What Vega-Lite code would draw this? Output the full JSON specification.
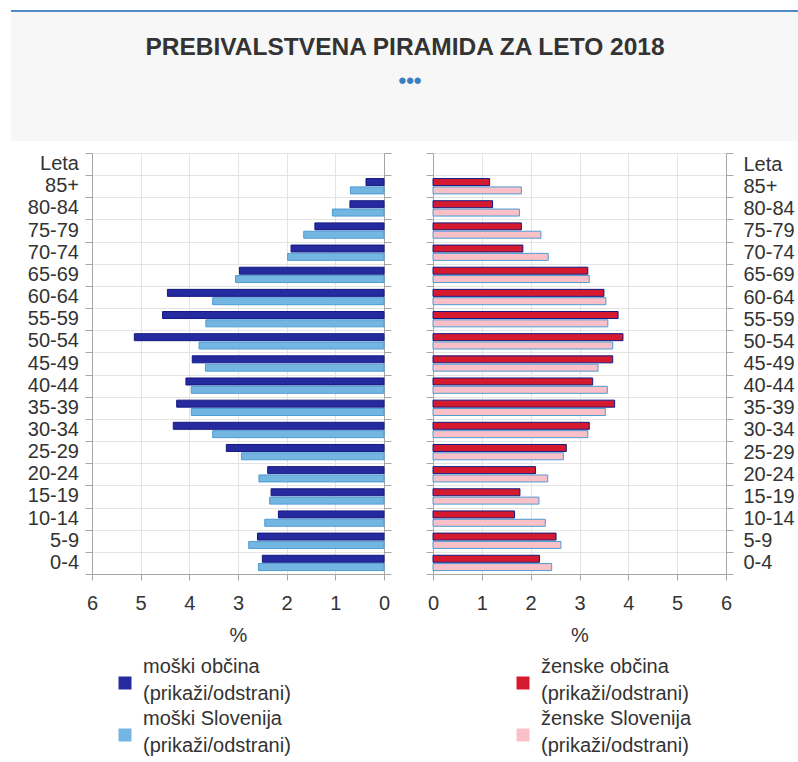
{
  "$schema": "https://vega.github.io/schema/vega-lite/v6.json",
  "background": "white",
  "padding": {"left": 10, "top": 10, "right": 0, "bottom": 0},
  "config": {
    "font": "Liberation Sans",
    "view": {"stroke": null},
    "axis": {
      "labelFont": "Liberation Sans", "labelFontSize": 20, "labelColor": "#333333",
      "titleFont": "Liberation Sans", "titleFontSize": 20, "titleFontWeight": "normal", "titleColor": "#333333",
      "domainColor": "#a6a6a6", "tickColor": "#a6a6a6", "gridColor": "#e4e4e4", "tickSize": 7
    },
    "legend": {"labelFont": "Liberation Sans", "labelFontSize": 20, "labelColor": "#333333"}
  },
  "datasets": {
    "ages": [
      {"age": "Leta"}, {"age": "85+"}, {"age": "80-84"}, {"age": "75-79"}, {"age": "70-74"}, {"age": "65-69"}, {"age": "60-64"}, {"age": "55-59"}, {"age": "50-54"}, {"age": "45-49"}, {"age": "40-44"}, {"age": "35-39"}, {"age": "30-34"}, {"age": "25-29"}, {"age": "20-24"}, {"age": "15-19"}, {"age": "10-14"}, {"age": "5-9"}, {"age": "0-4"}
    ],
    "male": [
      {"age": "85+", "area": "občina", "series": "moški občina", "value": 0.37},
      {"age": "85+", "area": "Slovenija", "series": "moški Slovenija", "value": 0.69},
      {"age": "80-84", "area": "občina", "series": "moški občina", "value": 0.70},
      {"age": "80-84", "area": "Slovenija", "series": "moški Slovenija", "value": 1.06},
      {"age": "75-79", "area": "občina", "series": "moški občina", "value": 1.42},
      {"age": "75-79", "area": "Slovenija", "series": "moški Slovenija", "value": 1.65},
      {"age": "70-74", "area": "občina", "series": "moški občina", "value": 1.91},
      {"age": "70-74", "area": "Slovenija", "series": "moški Slovenija", "value": 1.98},
      {"age": "65-69", "area": "občina", "series": "moški občina", "value": 2.97},
      {"age": "65-69", "area": "Slovenija", "series": "moški Slovenija", "value": 3.05},
      {"age": "60-64", "area": "občina", "series": "moški občina", "value": 4.45},
      {"age": "60-64", "area": "Slovenija", "series": "moški Slovenija", "value": 3.52},
      {"age": "55-59", "area": "občina", "series": "moški občina", "value": 4.55},
      {"age": "55-59", "area": "Slovenija", "series": "moški Slovenija", "value": 3.66},
      {"age": "50-54", "area": "občina", "series": "moški občina", "value": 5.13},
      {"age": "50-54", "area": "Slovenija", "series": "moški Slovenija", "value": 3.80},
      {"age": "45-49", "area": "občina", "series": "moški občina", "value": 3.94},
      {"age": "45-49", "area": "Slovenija", "series": "moški Slovenija", "value": 3.67},
      {"age": "40-44", "area": "občina", "series": "moški občina", "value": 4.07},
      {"age": "40-44", "area": "Slovenija", "series": "moški Slovenija", "value": 3.96},
      {"age": "35-39", "area": "občina", "series": "moški občina", "value": 4.26},
      {"age": "35-39", "area": "Slovenija", "series": "moški Slovenija", "value": 3.96},
      {"age": "30-34", "area": "občina", "series": "moški občina", "value": 4.33},
      {"age": "30-34", "area": "Slovenija", "series": "moški Slovenija", "value": 3.52},
      {"age": "25-29", "area": "občina", "series": "moški občina", "value": 3.24},
      {"age": "25-29", "area": "Slovenija", "series": "moški Slovenija", "value": 2.93},
      {"age": "20-24", "area": "občina", "series": "moški občina", "value": 2.39},
      {"age": "20-24", "area": "Slovenija", "series": "moški Slovenija", "value": 2.57},
      {"age": "15-19", "area": "občina", "series": "moški občina", "value": 2.32},
      {"age": "15-19", "area": "Slovenija", "series": "moški Slovenija", "value": 2.35},
      {"age": "10-14", "area": "občina", "series": "moški občina", "value": 2.17},
      {"age": "10-14", "area": "Slovenija", "series": "moški Slovenija", "value": 2.45},
      {"age": "5-9", "area": "občina", "series": "moški občina", "value": 2.60},
      {"age": "5-9", "area": "Slovenija", "series": "moški Slovenija", "value": 2.78},
      {"age": "0-4", "area": "občina", "series": "moški občina", "value": 2.50},
      {"age": "0-4", "area": "Slovenija", "series": "moški Slovenija", "value": 2.58}
    ],
    "female": [
      {"age": "85+", "area": "občina", "series": "ženske občina", "value": 1.16},
      {"age": "85+", "area": "Slovenija", "series": "ženske Slovenija", "value": 1.81},
      {"age": "80-84", "area": "občina", "series": "ženske občina", "value": 1.22},
      {"age": "80-84", "area": "Slovenija", "series": "ženske Slovenija", "value": 1.77},
      {"age": "75-79", "area": "občina", "series": "ženske občina", "value": 1.81},
      {"age": "75-79", "area": "Slovenija", "series": "ženske Slovenija", "value": 2.21},
      {"age": "70-74", "area": "občina", "series": "ženske občina", "value": 1.84},
      {"age": "70-74", "area": "Slovenija", "series": "ženske Slovenija", "value": 2.36},
      {"age": "65-69", "area": "občina", "series": "ženske občina", "value": 3.17},
      {"age": "65-69", "area": "Slovenija", "series": "ženske Slovenija", "value": 3.20},
      {"age": "60-64", "area": "občina", "series": "ženske občina", "value": 3.50},
      {"age": "60-64", "area": "Slovenija", "series": "ženske Slovenija", "value": 3.54},
      {"age": "55-59", "area": "občina", "series": "ženske občina", "value": 3.79},
      {"age": "55-59", "area": "Slovenija", "series": "ženske Slovenija", "value": 3.58},
      {"age": "50-54", "area": "občina", "series": "ženske občina", "value": 3.89},
      {"age": "50-54", "area": "Slovenija", "series": "ženske Slovenija", "value": 3.68},
      {"age": "45-49", "area": "občina", "series": "ženske občina", "value": 3.68},
      {"age": "45-49", "area": "Slovenija", "series": "ženske Slovenija", "value": 3.38},
      {"age": "40-44", "area": "občina", "series": "ženske občina", "value": 3.27},
      {"age": "40-44", "area": "Slovenija", "series": "ženske Slovenija", "value": 3.57},
      {"age": "35-39", "area": "občina", "series": "ženske občina", "value": 3.72},
      {"age": "35-39", "area": "Slovenija", "series": "ženske Slovenija", "value": 3.53},
      {"age": "30-34", "area": "občina", "series": "ženske občina", "value": 3.20},
      {"age": "30-34", "area": "Slovenija", "series": "ženske Slovenija", "value": 3.17},
      {"age": "25-29", "area": "občina", "series": "ženske občina", "value": 2.73},
      {"age": "25-29", "area": "Slovenija", "series": "ženske Slovenija", "value": 2.67},
      {"age": "20-24", "area": "občina", "series": "ženske občina", "value": 2.10},
      {"age": "20-24", "area": "Slovenija", "series": "ženske Slovenija", "value": 2.35},
      {"age": "15-19", "area": "občina", "series": "ženske občina", "value": 1.78},
      {"age": "15-19", "area": "Slovenija", "series": "ženske Slovenija", "value": 2.17},
      {"age": "10-14", "area": "občina", "series": "ženske občina", "value": 1.67},
      {"age": "10-14", "area": "Slovenija", "series": "ženske Slovenija", "value": 2.30},
      {"age": "5-9", "area": "občina", "series": "ženske občina", "value": 2.52},
      {"age": "5-9", "area": "Slovenija", "series": "ženske Slovenija", "value": 2.62},
      {"age": "0-4", "area": "občina", "series": "ženske občina", "value": 2.18},
      {"age": "0-4", "area": "Slovenija", "series": "ženske Slovenija", "value": 2.43}
    ],
    "header": [{"title": "PREBIVALSTVENA PIRAMIDA ZA LETO 2018", "dots": "•••"}]
  },
  "spacing": 2,
  "vconcat": [
    {
      "width": 788,
      "height": 130,
      "view": {"fill": "#f7f7f7", "stroke": null},
      "data": {"name": "header"},
      "layer": [
        {
          "mark": {"type": "rule", "color": "#4f89c6", "strokeWidth": 2},
          "encoding": {"y": {"datum": 1, "type": "quantitative", "scale": {"domain": [0, 1]}, "axis": null}}
        },
        {
          "mark": {"type": "text", "font": "Liberation Sans", "fontSize": 24.5, "fontWeight": "bold", "color": "#333333", "dy": -28},
          "encoding": {"text": {"field": "title"}}
        },
        {
          "mark": {"type": "text", "font": "Liberation Sans", "fontSize": 22, "fontWeight": "bold", "color": "#3a7fc1", "dy": 5, "dx": 5},
          "encoding": {"text": {"field": "dots"}}
        }
      ]
    },
    {
      "spacing": 5,
      "resolve": {"scale": {"x": "independent", "y": "independent", "color": "independent"}, "legend": {"color": "independent"}},
      "hconcat": [
        {
          "width": 68,
          "height": 421,
          "data": {"name": "ages"},
          "mark": {"type": "text", "align": "right", "baseline": "middle", "font": "Liberation Sans", "fontSize": 20, "color": "#333333"},
          "encoding": {
            "y": {"field": "age", "type": "nominal", "scale": {"domain": ["Leta", "85+", "80-84", "75-79", "70-74", "65-69", "60-64", "55-59", "50-54", "45-49", "40-44", "35-39", "30-34", "25-29", "20-24", "15-19", "10-14", "5-9", "0-4"], "paddingInner": 0, "paddingOuter": 0}, "axis": null},
            "x": {"datum": 1, "type": "quantitative", "scale": {"domain": [0, 1]}, "axis": null},
            "text": {"field": "age"}
          }
        },
        {
          "spacing": 33,
          "resolve": {"scale": {"x": "independent", "y": "independent", "color": "independent"}, "legend": {"color": "independent"}},
          "hconcat": [
            {
              "width": 292,
              "height": 421,
              "data": {"name": "male"},
              "resolve": {"axis": {"y": "independent"}},
              "layer": [
                {
                  "mark": {"type": "bar", "strokeWidth": 1},
                  "encoding": {
                    "y": {
                      "field": "age", "type": "nominal",
                      "scale": {"domain": ["Leta", "85+", "80-84", "75-79", "70-74", "65-69", "60-64", "55-59", "50-54", "45-49", "40-44", "35-39", "30-34", "25-29", "20-24", "15-19", "10-14", "5-9", "0-4"], "paddingInner": 0, "paddingOuter": 0},
                      "axis": {"orient": "left", "title": null, "labels": false, "tickBand": "extent", "grid": true}
                    },
                    "yOffset": {"field": "area", "type": "nominal", "sort": ["občina", "Slovenija"], "scale": {"paddingInner": 0.16, "paddingOuter": 0.41}},
                    "x": {
                      "field": "value", "type": "quantitative",
                      "scale": {"domain": [0, 6], "reverse": true, "nice": false},
                      "axis": {"title": "%", "values": [0, 1, 2, 3, 4, 5, 6], "grid": true, "tickSize": 6, "labelFlush": false, "labelPadding": 13, "titlePadding": 12}
                    },
                    "color": {
                      "field": "series", "type": "nominal",
                      "scale": {"domain": ["moški občina", "moški Slovenija"], "range": ["#252a9e", "#74b6e2"]},
                      "legend": {"title": null, "orient": "none", "legendX": 23, "legendY": 520, "symbolType": "square", "symbolSize": 169, "symbolStrokeWidth": 0, "labelOffset": 8, "labelLimit": 400, "rowPadding": 5, "labelExpr": "[datum.label, '(prikaži/odstrani)']", "encode": {"labels": {"update": {"lineHeight": {"value": 27}, "dy": {"value": -16}}}}}
                    },
                    "stroke": {
                      "field": "series", "type": "nominal",
                      "scale": {"domain": ["moški občina", "moški Slovenija"], "range": ["#141a82", "#4f9bd3"]},
                      "legend": null
                    }
                  }
                },
                {
                  "mark": {"type": "point", "opacity": 0},
                  "encoding": {
                    "y": {
                      "field": "age", "type": "nominal",
                      "axis": {"orient": "right", "title": null, "labels": false, "tickBand": "extent", "grid": false}
                    }
                  }
                }
              ]
            },
            {
              "width": 293,
              "height": 421,
              "data": {"name": "female"},
              "resolve": {"axis": {"y": "independent"}},
              "layer": [
                {
                  "mark": {"type": "bar", "strokeWidth": 1},
                  "encoding": {
                    "y": {
                      "field": "age", "type": "nominal",
                      "scale": {"domain": ["Leta", "85+", "80-84", "75-79", "70-74", "65-69", "60-64", "55-59", "50-54", "45-49", "40-44", "35-39", "30-34", "25-29", "20-24", "15-19", "10-14", "5-9", "0-4"], "paddingInner": 0, "paddingOuter": 0},
                      "axis": {"orient": "right", "title": null, "tickBand": "extent", "grid": true, "labelPadding": 10}
                    },
                    "yOffset": {"field": "area", "type": "nominal", "sort": ["občina", "Slovenija"], "scale": {"paddingInner": 0.16, "paddingOuter": 0.41}},
                    "x": {
                      "field": "value", "type": "quantitative",
                      "scale": {"domain": [0, 6], "nice": false},
                      "axis": {"title": "%", "values": [0, 1, 2, 3, 4, 5, 6], "grid": true, "tickSize": 6, "labelFlush": false, "labelPadding": 13, "titlePadding": 12}
                    },
                    "color": {
                      "field": "series", "type": "nominal",
                      "scale": {"domain": ["ženske občina", "ženske Slovenija"], "range": ["#d51a30", "#f9c0c7"]},
                      "legend": {"title": null, "orient": "none", "legendX": 80, "legendY": 520, "symbolType": "square", "symbolSize": 169, "symbolStrokeWidth": 0, "labelOffset": 8, "labelLimit": 400, "rowPadding": 5, "labelExpr": "[datum.label, '(prikaži/odstrani)']", "encode": {"labels": {"update": {"lineHeight": {"value": 27}, "dy": {"value": -16}}}}}
                    },
                    "stroke": {
                      "field": "series", "type": "nominal",
                      "scale": {"domain": ["ženske občina", "ženske Slovenija"], "range": ["#b3061d", "#ef9eaa"]},
                      "legend": null
                    }
                  }
                },
                {
                  "mark": {"type": "point", "opacity": 0},
                  "encoding": {
                    "y": {
                      "field": "age", "type": "nominal",
                      "axis": {"orient": "left", "title": null, "labels": false, "tickBand": "extent", "grid": false}
                    }
                  }
                }
              ]
            }
          ]
        }
      ]
    }
  ]
}
